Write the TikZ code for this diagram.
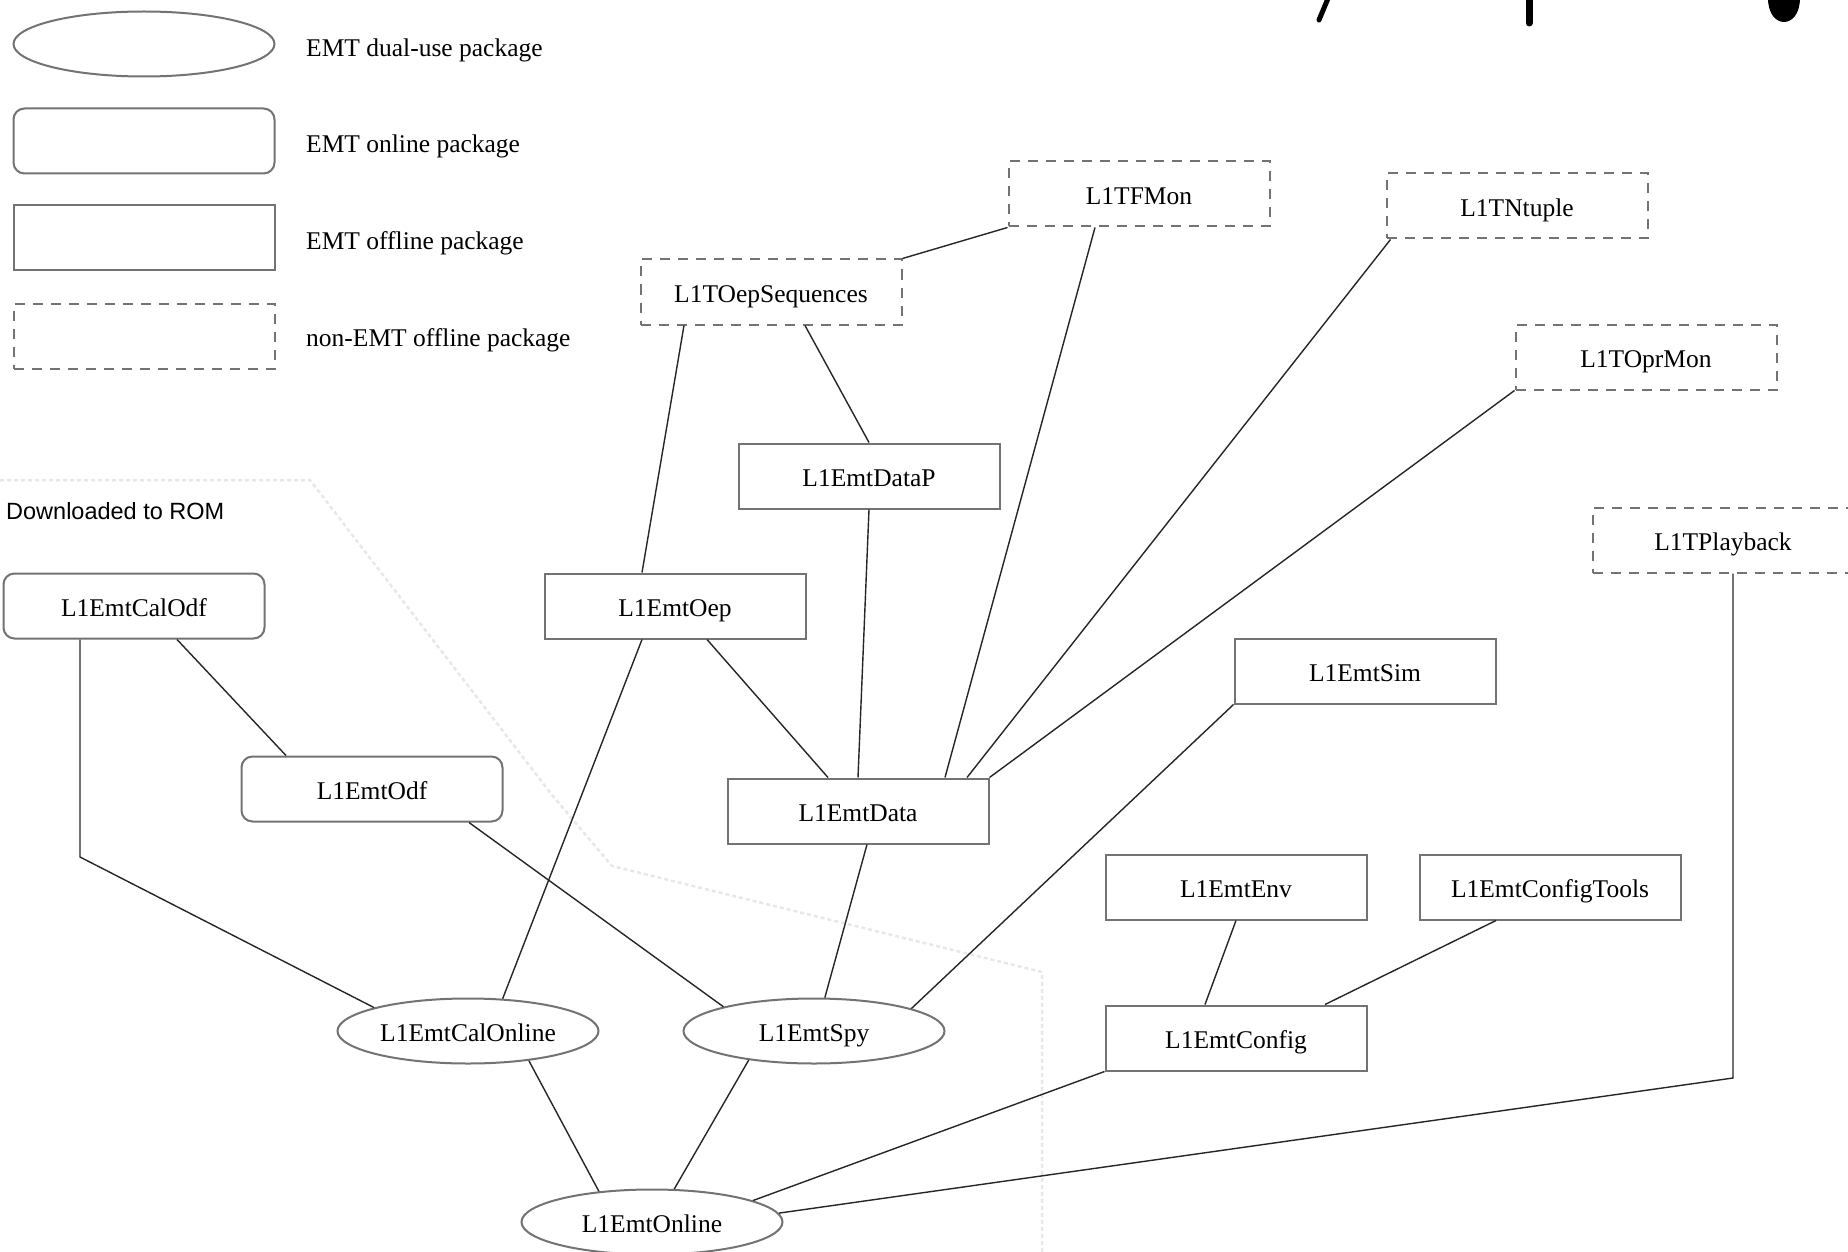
\documentclass[tikz,border=0pt]{standalone}
\usepackage{fontspec}
\setmainfont{Liberation Serif}
\newfontfamily\lblsans{Liberation Sans}
\usetikzlibrary{shapes.geometric}
\begin{document}
\begin{tikzpicture}[x=1pt,y=-1pt,
  every node/.style={font=\fontsize{25.5}{30}\selectfont, inner sep=0pt},
  pkg/.style={minimum width=261pt, minimum height=65pt, draw=black!55, line width=2pt, text height=21pt, text depth=0pt},
  dualpkg/.style={pkg, ellipse},
  onlinepkg/.style={pkg, rectangle, rounded corners=11pt},
  offlinepkg/.style={pkg, rectangle},
  nonemtpkg/.style={pkg, rectangle, dash pattern=on 10pt off 8pt},
  edge/.style={draw=black!85, line width=1.4pt},
  legtext/.style={anchor=west},
  romline/.style={draw=black!9, line width=2.5pt, dash pattern=on 4pt off 3pt},
  titlefrag/.style={draw=black, line cap=round}
  ]
\useasboundingbox (0,0) rectangle (1848,1252);
\fill[white] (0,0) rectangle (1848,1252);

% cut-off title fragments
\draw[titlefrag, line width=5pt] (1329,-4) -- (1319,20);
\draw[titlefrag, line width=7pt] (1529,-4) -- (1529,23);
\fill[black] (1768,-2) .. controls (1768,30) and (1800,30) .. (1800,-2) -- cycle;

% Downloaded-to-ROM boundary
\draw[romline] (0,480) -- (310,480) -- (552,795) -- (612,866) -- (1042,972) -- (1042,1252);
\node[anchor=west, font=\lblsans\fontsize{23.5}{28}\selectfont] (romlbl) at (6,511) {Downloaded to ROM};

% legend
\node[dualpkg] (legdual) at (144,44) {};
\node[onlinepkg] (legonline) at (144,141) {};
\node[offlinepkg] (legoffline) at (144,238) {};
\node[nonemtpkg] (legnonemt) at (144,336) {};
\node[legtext] (legdualt) at (306,50) {EMT dual-use package};
\node[legtext] (legonlinet) at (306,146) {EMT online package};
\node[legtext] (legofflinet) at (306,243) {EMT offline package};
\node[legtext] (legnonemtt) at (306,340) {non-EMT offline package};

% packages
\node[onlinepkg] (calodf) at (134,606) {L1EmtCalOdf};
\node[onlinepkg] (odf) at (372,789) {L1EmtOdf};
\node[offlinepkg] (oep) at (675,606) {L1EmtOep};
\node[offlinepkg] (datap) at (869,476) {L1EmtDataP};
\node[offlinepkg] (data) at (858,811) {L1EmtData};
\node[nonemtpkg] (oepseq) at (771,292) {L1TOepSequences};
\node[nonemtpkg] (tfmon) at (1139,194) {L1TFMon};
\node[nonemtpkg] (ntuple) at (1517,206) {L1TNtuple};
\node[nonemtpkg] (oprmon) at (1646,357) {L1TOprMon};
\node[nonemtpkg] (playback) at (1723,540) {L1TPlayback};
\node[offlinepkg] (sim) at (1365,671) {L1EmtSim};
\node[offlinepkg] (env) at (1236,887) {L1EmtEnv};
\node[offlinepkg] (cfgtools) at (1550,887) {L1EmtConfigTools};
\node[offlinepkg] (config) at (1236,1038) {L1EmtConfig};
\node[dualpkg] (calonline) at (468,1031) {L1EmtCalOnline};
\node[dualpkg] (spy) at (814,1031) {L1EmtSpy};
\node[dualpkg] (online) at (652,1222) {L1EmtOnline};

\coordinate (bendA) at (80,857);
\coordinate (bendB) at (1733,1078);

% connectors
\draw[edge] (oepseq.north east) -- (tfmon.south west);
\draw[edge] ([xshift=-87pt]oepseq.south) -- ([xshift=-33pt]oep.north);
\draw[edge] ([xshift=34pt]oepseq.south) -- (datap.north);
\draw[edge] (datap.south) -- (data.north);
\draw[edge] ([xshift=32pt]oep.south) -- ([xshift=-30pt]data.north);
\draw[edge] ([xshift=-44pt]tfmon.south) -- ([xshift=87pt]data.north);
\draw[edge] ([xshift=5pt]ntuple.south west) -- ([xshift=109pt]data.north);
\draw[edge] (oprmon.south west) -- (data.north east);
\draw[edge] ([xshift=-33pt]oep.south) -- (calonline.43);
\draw[edge] ([xshift=9pt]data.south) -- (spy.72);
\draw[edge] (sim.south west) -- (spy.13);
\draw[edge] ([xshift=97pt]odf.south) -- (spy.165);
\draw[edge] ([xshift=43pt]calodf.south) -- ([xshift=-86pt]odf.north);
\draw[edge] ([xshift=-54pt]calodf.south) -- (bendA) -- (calonline.166);
\draw[edge] (calonline.-26) -- (online.150);
\draw[edge] (spy.204) -- (online.56);
\draw[edge] (config.south west) -- (online.12);
\draw[edge] ([xshift=10pt]playback.south) -- (bendB) -- (online.4);
\draw[edge] (env.south) -- ([xshift=-31pt]config.north);
\draw[edge] ([xshift=-54pt]cfgtools.south) -- ([xshift=89pt]config.north);
\end{tikzpicture}
\end{document}
